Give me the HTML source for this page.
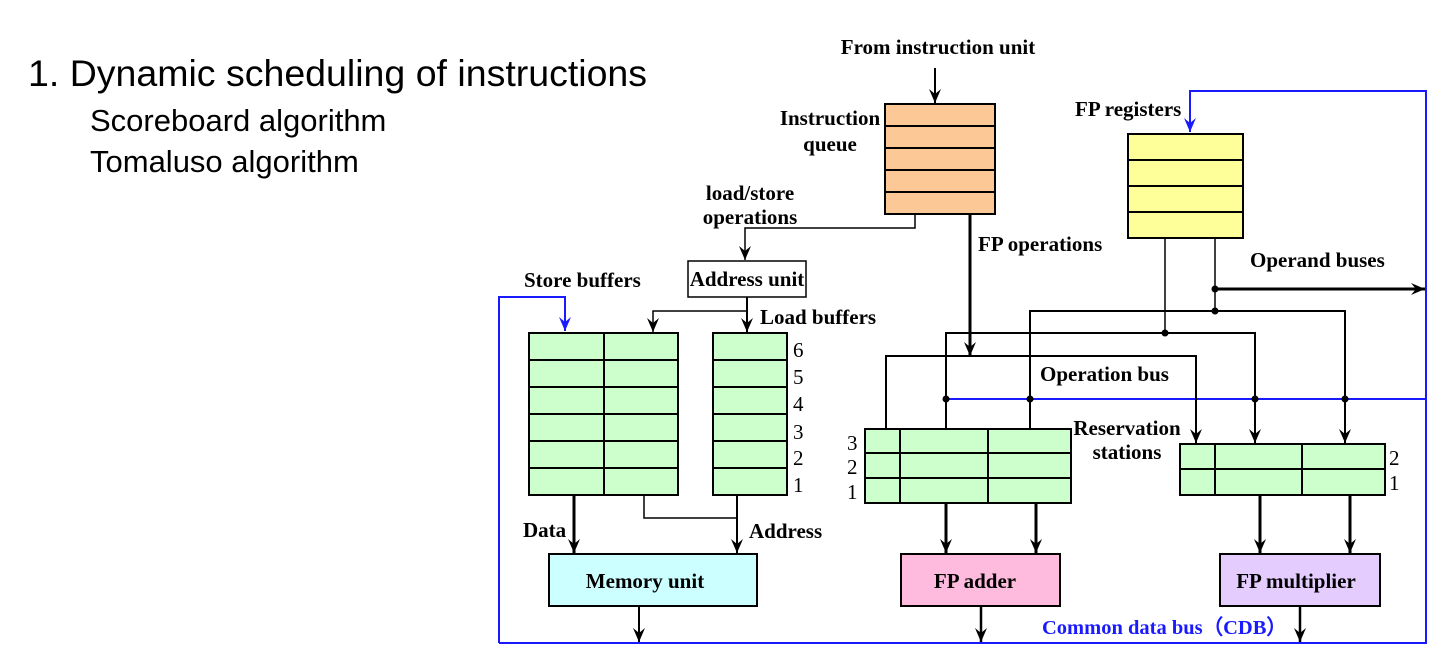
<!DOCTYPE html>
<html><head><meta charset="utf-8"><style>
html,body{margin:0;padding:0;background:#fff;}
svg{display:block;}
.t{font-family:"Liberation Serif",serif;font-weight:bold;font-size:21px;fill:#000;}
.n{font-family:"Liberation Serif",serif;font-size:21px;fill:#000;}
.s{font-family:"Liberation Sans",sans-serif;fill:#000;}
</style></head><body>
<svg width="1446" height="670" viewBox="0 0 1446 670" xmlns="http://www.w3.org/2000/svg">
<defs>
<marker id="a" markerWidth="15" markerHeight="12" refX="14" refY="6" orient="auto" markerUnits="userSpaceOnUse" viewBox="0 0 15 12">
<path d="M0,0 L14,6 L0,12 L5,6 Z" fill="#000"/></marker>
<marker id="b" markerWidth="15" markerHeight="12" refX="14" refY="6" orient="auto" markerUnits="userSpaceOnUse" viewBox="0 0 15 12">
<path d="M0,0 L14,6 L0,12 L5,6 Z" fill="#1a1aff"/></marker>
</defs>

<text class="s" x="28" y="86" font-size="37.5">1. Dynamic scheduling of instructions</text>
<text class="s" x="90" y="131" font-size="31">Scoreboard algorithm</text>
<text class="s" x="90" y="172" font-size="31">Tomaluso algorithm</text>

<g stroke="#1a1aff" stroke-width="2" fill="none">
<path d="M499,643 L1426,643 L1426,91 L1190,91 L1190,132" marker-end="url(#b)"/>
<path d="M499,643 L499,297 L565,297 L565,331" marker-end="url(#b)"/>
<path d="M946,399 L1426,399"/>
</g>
<text x="1042" y="634" font-family="Liberation Serif,serif" font-weight="bold" font-size="20.5" fill="#1a1aff">Common data bus（CDB）</text>

<rect x="885" y="104" width="110" height="110" fill="#fcc896" stroke="#000" stroke-width="2"/>
<g stroke="#000" stroke-width="2"><line x1="885" y1="126" x2="995" y2="126"/><line x1="885" y1="148" x2="995" y2="148"/><line x1="885" y1="170" x2="995" y2="170"/><line x1="885" y1="192" x2="995" y2="192"/></g>
<text class="t" x="938" y="54" text-anchor="middle">From instruction unit</text>
<text class="t" x="830" y="125" text-anchor="middle">Instruction</text>
<text class="t" x="830" y="151" text-anchor="middle">queue</text>

<rect x="1128" y="134" width="115" height="104" fill="#ffff99" stroke="#000" stroke-width="2"/>
<g stroke="#000" stroke-width="2"><line x1="1128" y1="160" x2="1243" y2="160"/><line x1="1128" y1="186" x2="1243" y2="186"/><line x1="1128" y1="212" x2="1243" y2="212"/></g>
<text class="t" x="1075" y="116">FP registers</text>

<g stroke="#000" fill="none">
<path d="M935,68 L935,103" stroke-width="2" marker-end="url(#a)"/>
<path d="M915,214 L915,228 L745,228 L745,260" stroke-width="1.5" marker-end="url(#a)"/>
<path d="M970,214 L970,356" stroke-width="3" marker-end="url(#a)"/>
<path d="M1215,238 L1215,311" stroke-width="1.5"/>
<path d="M1215,289 L1425,289" stroke-width="3" marker-end="url(#a)"/>
<path d="M1030,428 L1030,311 L1345,311 L1345,443" stroke-width="2" marker-end="url(#a)"/>
<path d="M1165,238 L1165,333" stroke-width="1.5"/>
<path d="M946,428 L946,333 L1255,333 L1255,443" stroke-width="2" marker-end="url(#a)"/>
<path d="M886,428 L886,356 L1196,356 L1196,443" stroke-width="2" marker-end="url(#a)"/>
<path d="M747,297 L747,332" stroke-width="2" marker-end="url(#a)"/>
<path d="M747,311 L653,311 L653,332" stroke-width="1.5" marker-end="url(#a)"/>
<path d="M574,495 L574,553" stroke-width="3" marker-end="url(#a)"/>
<path d="M644,495 L644,518 L737,518" stroke-width="1.5"/>
<path d="M737,495 L737,553" stroke-width="2" marker-end="url(#a)"/>
<path d="M639,606 L639,642" stroke-width="2" marker-end="url(#a)"/>
<path d="M946,503 L946,553" stroke-width="3" marker-end="url(#a)"/>
<path d="M1036,503 L1036,553" stroke-width="3" marker-end="url(#a)"/>
<path d="M1260,495 L1260,553" stroke-width="3" marker-end="url(#a)"/>
<path d="M1350,495 L1350,553" stroke-width="3" marker-end="url(#a)"/>
<path d="M981,606 L981,642" stroke-width="2.5" marker-end="url(#a)"/>
<path d="M1300,606 L1300,642" stroke-width="2.5" marker-end="url(#a)"/>
</g>
<g fill="#000">
<circle cx="1215" cy="289" r="3.5"/><circle cx="1215" cy="311" r="3.5"/><circle cx="1165" cy="333" r="3.5"/>
<circle cx="946" cy="399" r="3.5"/><circle cx="1030" cy="399" r="3.5"/><circle cx="1255" cy="399" r="3.5"/><circle cx="1345" cy="399" r="3.5"/>
</g>

<rect x="688" y="261" width="118" height="36" fill="#fff" stroke="#000" stroke-width="1.5"/>
<text class="t" x="747" y="286" text-anchor="middle" font-size="19">Address unit</text>
<text class="t" x="750" y="200" text-anchor="middle" font-size="19">load/store</text>
<text class="t" x="750" y="224" text-anchor="middle" font-size="19">operations</text>
<text class="t" x="978" y="251" font-size="19">FP operations</text>
<text class="t" x="1250" y="267" font-size="20">Operand buses</text>
<text class="t" x="524" y="287" font-size="19">Store buffers</text>
<text class="t" x="760" y="324" font-size="19">Load buffers</text>
<text class="t" x="1040" y="381" font-size="20">Operation bus</text>
<text class="t" x="1127" y="435" text-anchor="middle" font-size="20">Reservation</text>
<text class="t" x="1127" y="459" text-anchor="middle" font-size="20">stations</text>
<text class="t" x="523" y="537" font-size="19">Data</text>
<text class="t" x="749" y="538" font-size="19">Address</text>

<g stroke="#000" stroke-width="2">
<rect x="529" y="333" width="149" height="162" fill="#ccffcc"/>
<rect x="713" y="333" width="74" height="162" fill="#ccffcc"/>
<line x1="604" y1="333" x2="604" y2="495"/>
<line x1="529" y1="360" x2="678" y2="360"/><line x1="529" y1="387" x2="678" y2="387"/><line x1="529" y1="414" x2="678" y2="414"/><line x1="529" y1="441" x2="678" y2="441"/><line x1="529" y1="468" x2="678" y2="468"/>
<line x1="713" y1="360" x2="787" y2="360"/><line x1="713" y1="387" x2="787" y2="387"/><line x1="713" y1="414" x2="787" y2="414"/><line x1="713" y1="441" x2="787" y2="441"/><line x1="713" y1="468" x2="787" y2="468"/>
</g>
<text class="n" x="793" y="357">6</text><text class="n" x="793" y="384">5</text><text class="n" x="793" y="411">4</text><text class="n" x="793" y="439">3</text><text class="n" x="793" y="465">2</text><text class="n" x="793" y="492">1</text>

<g stroke="#000" stroke-width="2">
<rect x="865" y="429" width="206" height="74" fill="#ccffcc"/>
<line x1="865" y1="453" x2="1071" y2="453"/><line x1="865" y1="478" x2="1071" y2="478"/>
<line x1="900" y1="429" x2="900" y2="503"/><line x1="988" y1="429" x2="988" y2="503"/>
<rect x="1180" y="444" width="205" height="51" fill="#ccffcc"/>
<line x1="1180" y1="469" x2="1385" y2="469"/>
<line x1="1215" y1="444" x2="1215" y2="495"/><line x1="1302" y1="444" x2="1302" y2="495"/>
</g>
<text class="n" x="847" y="450">3</text><text class="n" x="847" y="474">2</text><text class="n" x="847" y="499">1</text>
<text class="n" x="1389" y="465">2</text><text class="n" x="1389" y="490">1</text>

<rect x="549" y="554" width="208" height="52" fill="#ccffff" stroke="#000" stroke-width="2"/>
<text class="t" x="645" y="588" text-anchor="middle">Memory unit</text>
<rect x="901" y="554" width="159" height="52" fill="#ffbbdd" stroke="#000" stroke-width="2"/>
<text class="t" x="975" y="588" text-anchor="middle">FP adder</text>
<rect x="1220" y="554" width="160" height="52" fill="#e5ccff" stroke="#000" stroke-width="2"/>
<text class="t" x="1296" y="588" text-anchor="middle">FP multiplier</text>
</svg>
</body></html>
